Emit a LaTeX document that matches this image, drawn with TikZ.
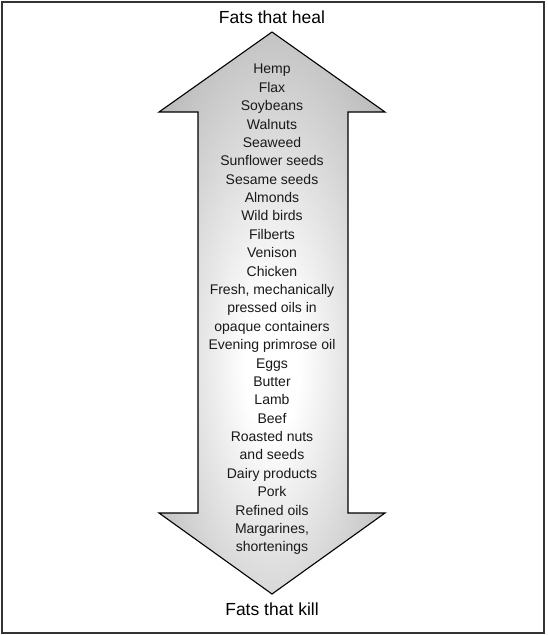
\documentclass[tikz,border=0pt]{standalone}
\usepackage{fontspec}
\setmainfont{Liberation Sans}
\pgfdeclareradialshading{fatglow}{\pgfpoint{0bp}{-5bp}}{color(0bp)=(white); color(6bp)=(white); color(38bp)=(black!33); color(100bp)=(black!33)}
\begin{document}
\begin{tikzpicture}[x=1pt,y=-1pt]
		\useasboundingbox (0,0) rectangle (547,635);
		% Ramme
		\draw[line width=2pt, black!80] (2,1.5) rectangle (544,633);

		% Dobbelpil
		\shadedraw[shading=fatglow, line width=1.1pt, line join=miter]
			(272,32) -- (385,112) -- (348,112) -- (348,513) -- (385,513) -- (272,594)
			-- (159,513) -- (198,513) -- (198,112) -- (159,112) -- cycle;

		% Overskrifter
		\node (heal) at (272,17) {\fontsize{17.5}{20}\selectfont Fats that heal};
		\node (kill) at (272,609) {\fontsize{17.5}{20}\selectfont Fats that kill};

		% Liste
		\node[align=center, font=\fontsize{14}{18.38}\selectfont, text=black!90] (foods) at (272,309.5) {Hemp\\ Flax\\ Soybeans\\ Walnuts\\ Seaweed\\ Sunflower seeds\\ Sesame seeds\\ Almonds\\ Wild birds\\ Filberts\\ Venison\\ Chicken\\ Fresh, mechanically\\ pressed oils in\\ opaque containers\\ Evening primrose oil\\ Eggs\\ Butter\\ Lamb\\ Beef\\ Roasted nuts\\ and seeds\\ Dairy products\\ Pork\\ Refined oils\\ Margarines,\\ shortenings};
	\end{tikzpicture}
\end{document}
